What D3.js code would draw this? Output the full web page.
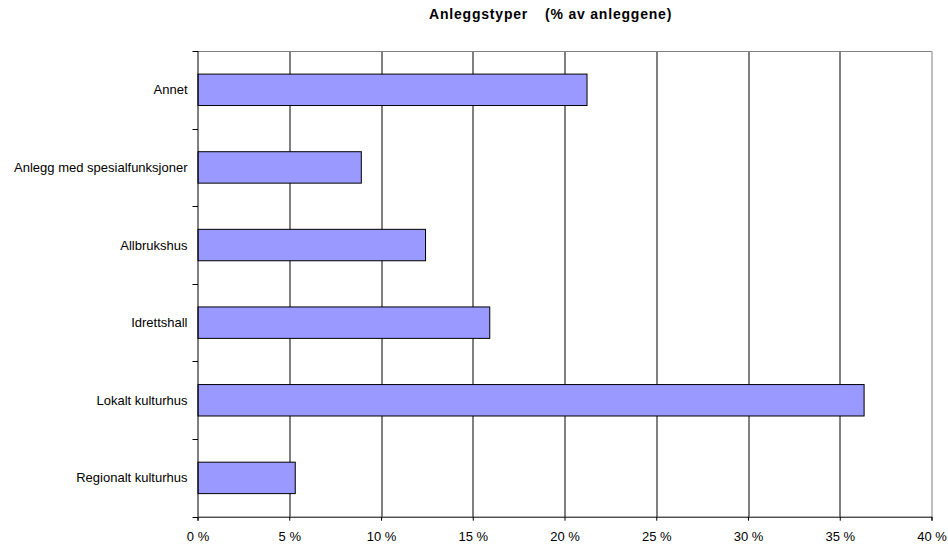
<!DOCTYPE html>
<html>
<head>
<meta charset="utf-8">
<script src="https://cdn.jsdelivr.net/npm/d3@7"></script>
<style>
  body { margin: 0; background: #fff; }
  text { font-family: "Liberation Sans", Arial, sans-serif; }
</style>
</head>
<body>
<div id="chart"></div>
<script>
// categories top to bottom
var categories = ["Annet", "Anlegg med spesialfunksjoner", "Allbrukshus", "Idrettshall", "Lokalt kulturhus", "Regionalt kulturhus"];
var values = [21.2, 8.9, 12.4, 15.9, 36.3, 5.3];
var xTicks = [0, 5, 10, 15, 20, 25, 30, 35, 40];

var width = 948, height = 545;
var margin = { top: 51, right: 16, bottom: 28, left: 197.5 };
var plotW = 931.5 - margin.left,
    plotH = 516.7 - margin.top;

var svg = d3.select("#chart").append("svg")
  .attr("width", width)
  .attr("height", height);

// title in two parts, wide gap between them
svg.append("text")
  .attr("x", 429)
  .attr("y", 19)
  .style("font-size", "14px")
  .style("font-weight", "bold")
  .style("letter-spacing", "0.8px")
  .text("Anleggstyper");
svg.append("text")
  .attr("x", 545)
  .attr("y", 19)
  .style("font-size", "14px")
  .style("font-weight", "bold")
  .style("letter-spacing", "0.8px")
  .text("(% av anleggene)");

var g = svg.append("g")
  .attr("transform", "translate(" + margin.left + "," + margin.top + ")");

var x = d3.scaleLinear().domain([0, 40]).range([0, plotW]);
var y = d3.scaleBand().domain(categories).range([0, plotH])
  .paddingInner(0.595).paddingOuter(0.2975);

var data = categories.map(function(c, i){ return { label: c, value: values[i] }; });

// gridlines
g.selectAll("line.grid")
  .data(xTicks.filter(function(t){ return t > 0; }))
  .enter().append("line")
  .attr("class", "grid")
  .attr("x1", function(d){ return Math.round(x(d)) + 0.5; })
  .attr("x2", function(d){ return Math.round(x(d)) + 0.5; })
  .attr("y1", 0)
  .attr("y2", plotH)
  .attr("stroke", function(d){ return d === 40 ? "#808080" : "#000"; })
  .attr("stroke-width", 1);

// top border
g.append("line")
  .attr("x1", 0).attr("x2", plotW)
  .attr("y1", 0.5).attr("y2", 0.5)
  .attr("stroke", "#808080");

// bars
g.selectAll("rect.bar")
  .data(data)
  .enter().append("rect")
  .attr("class", "bar")
  .attr("x", 0.5)
  .attr("y", function(d){ return y(d.label); })
  .attr("width", function(d){ return x(d.value); })
  .attr("height", y.bandwidth())
  .attr("fill", "#9999ff")
  .attr("stroke", "#000")
  .attr("stroke-width", 1);

// y axis: ticks on category boundaries
var step = y.step();
var bounds = d3.range(categories.length + 1).map(function(i){ return i * step; });
g.append("line")
  .attr("x1", 0.5).attr("x2", 0.5)
  .attr("y1", 0).attr("y2", plotH)
  .attr("stroke", "#000");
g.selectAll("line.ytick")
  .data(bounds)
  .enter().append("line")
  .attr("class", "ytick")
  .attr("x1", -5).attr("x2", 0.5)
  .attr("y1", function(d){ return Math.round(d) + 0.5; })
  .attr("y2", function(d){ return Math.round(d) + 0.5; })
  .attr("stroke", "#000");
g.selectAll("text.ylab")
  .data(categories)
  .enter().append("text")
  .attr("class", "ylab")
  .attr("x", -10)
  .attr("y", function(d){ return y(d) + y.bandwidth() / 2; })
  .attr("dy", "0.35em")
  .attr("text-anchor", "end")
  .style("font-size", "13px")
  .text(function(d){ return d; });

// x axis
var xAxis = d3.axisBottom(x)
  .tickValues(xTicks)
  .tickSize(4)
  .tickPadding(11)
  .tickFormat(function(d){ return d + " %"; });
var ax = g.append("g")
  .attr("transform", "translate(0," + plotH + ")")
  .call(xAxis);
ax.select(".domain").attr("stroke", "#000");
ax.selectAll(".tick line").attr("stroke", "#000");
ax.selectAll(".tick text")
  .style("font-size", "13px")
  .style("font-family", "'Liberation Sans', Arial, sans-serif")
  .attr("fill", "#000");
</script>
</body>
</html>
